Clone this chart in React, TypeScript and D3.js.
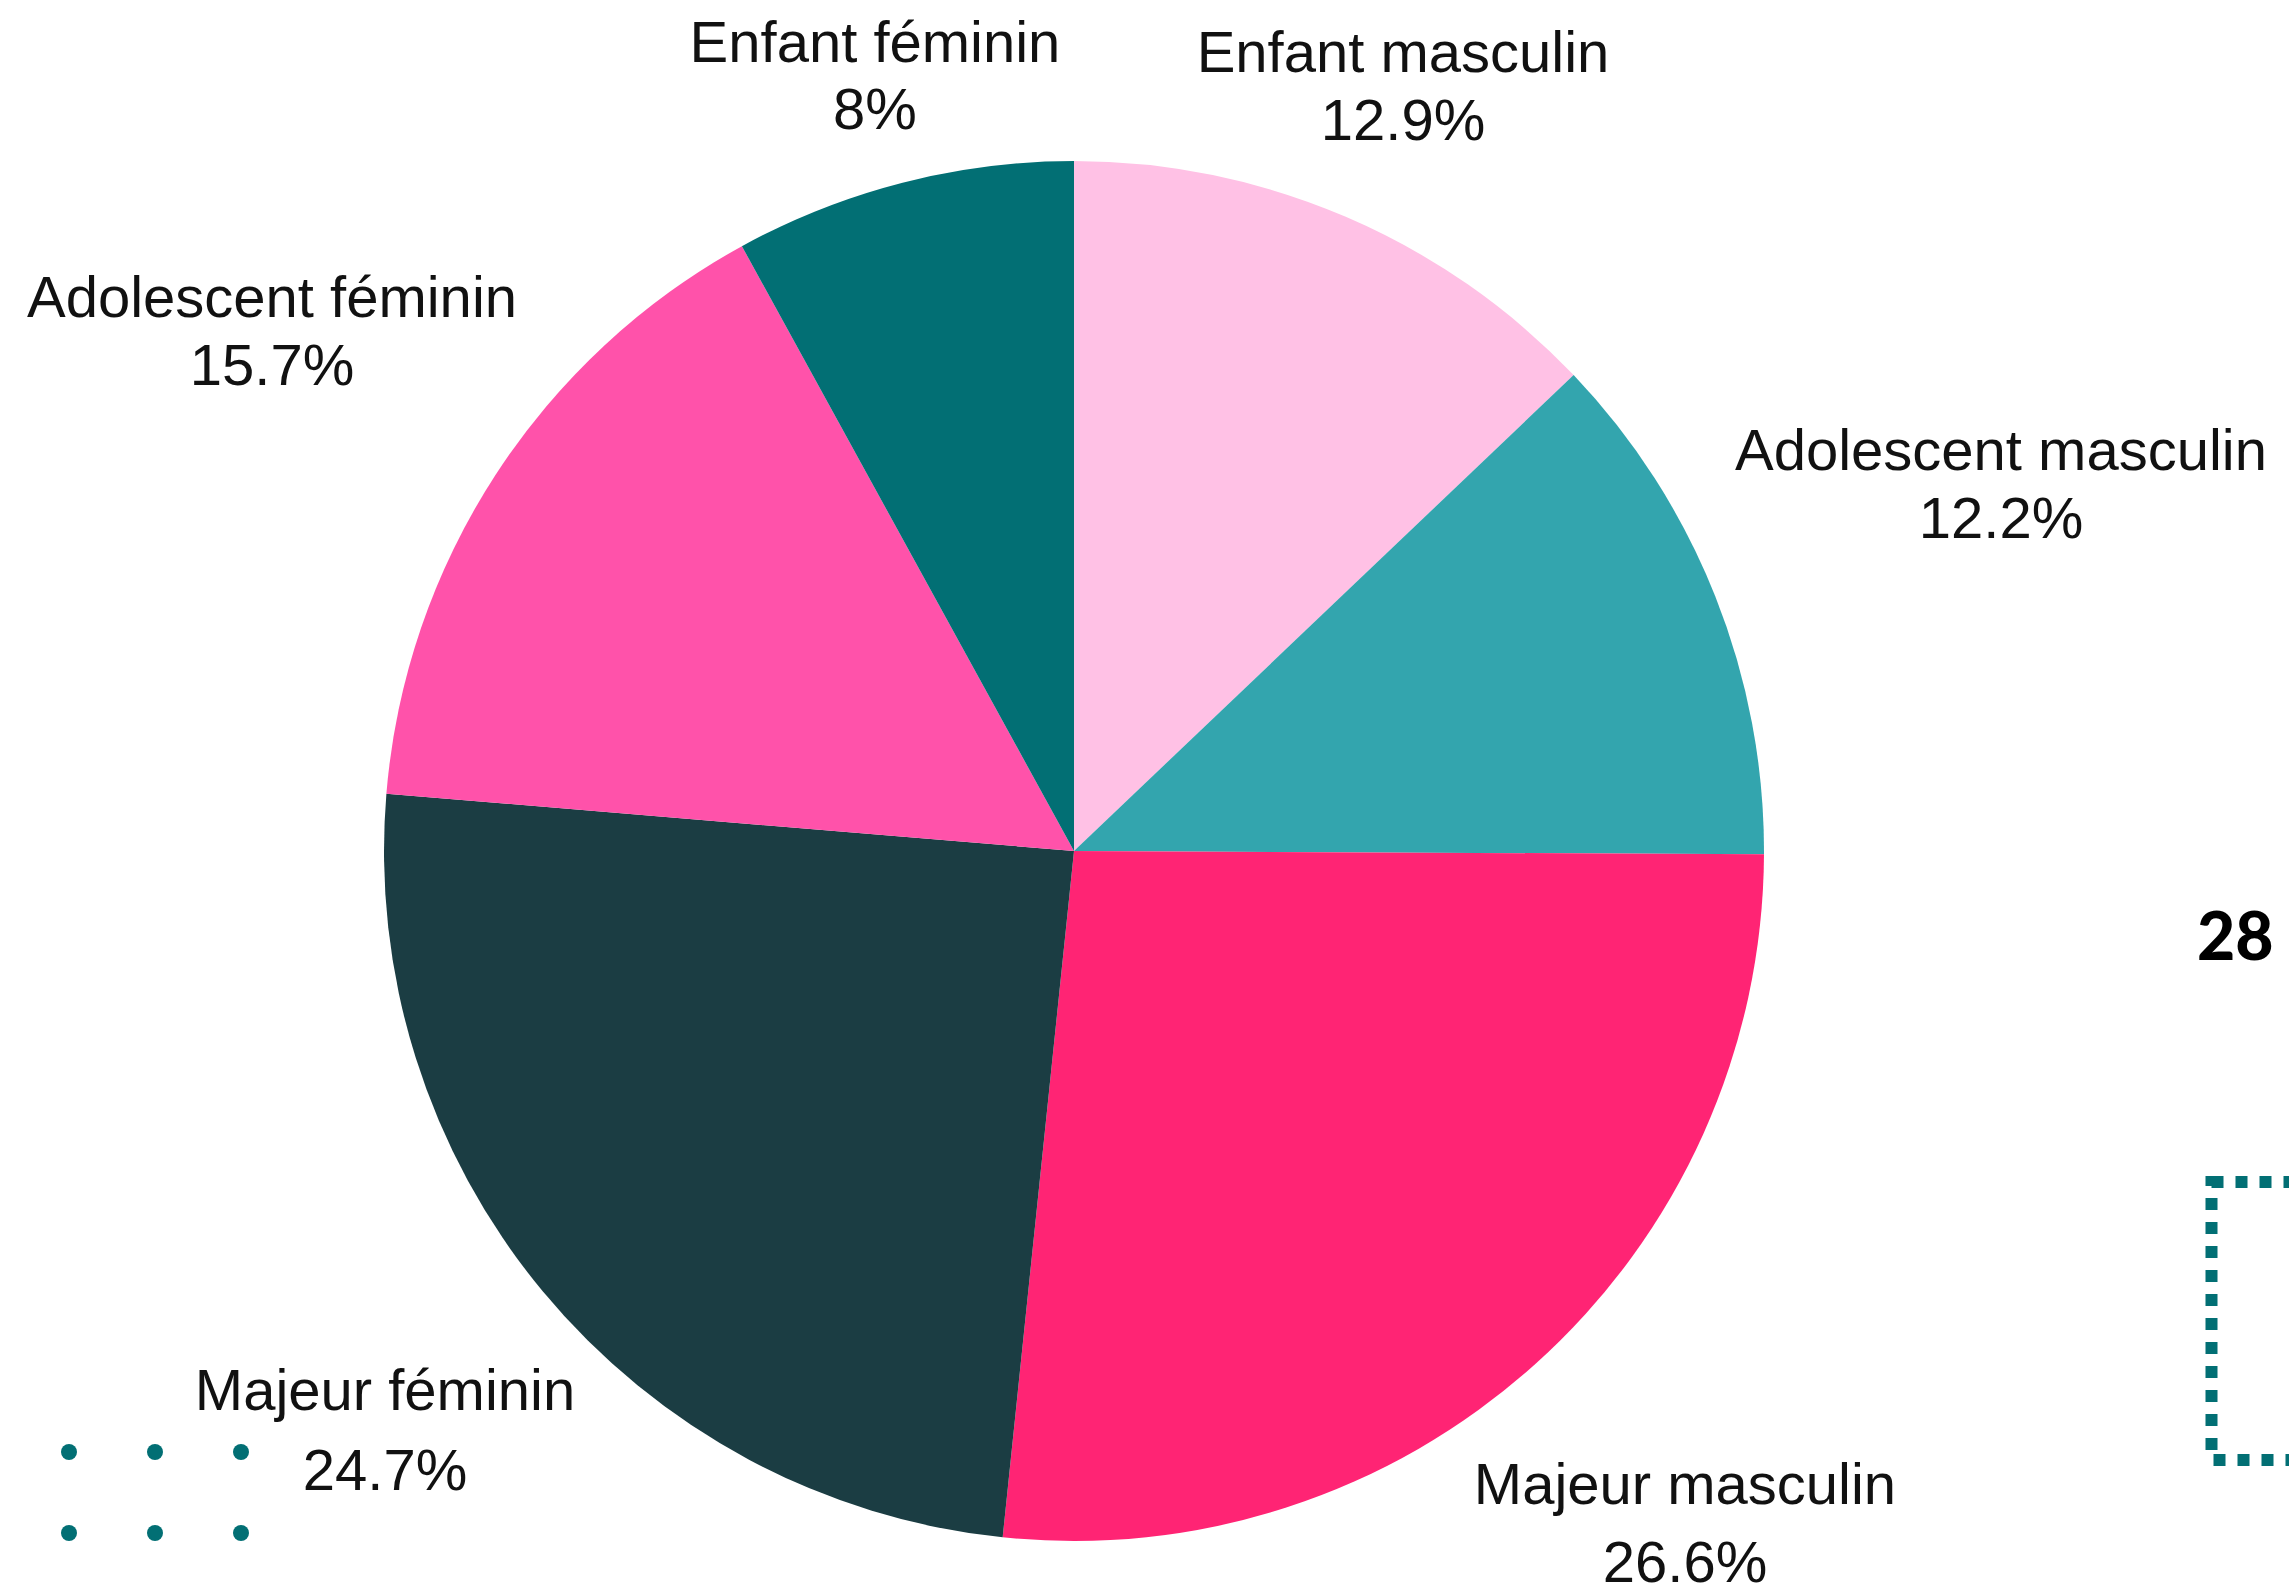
import { useEffect, useRef } from 'react'
import * as d3 from 'd3'

// slices, clockwise from 12 o'clock
const categories = [
  'Enfant masculin',
  'Adolescent masculin',
  'Majeur masculin',
  'Majeur féminin',
  'Adolescent féminin',
  'Enfant féminin',
]
const shares = [12.9, 12.2, 26.6, 24.7, 15.7, 8]
const shareLabels = ['12.9%', '12.2%', '26.6%', '24.7%', '15.7%', '8%']
const colors = ['#FFC1E5', '#33A5AE', '#FF2474', '#1B3D43', '#FF52AA', '#026F74']

// label anchor positions (centre x, first baseline, second baseline)
const labelPos: [number, number, number][] = [
  [1403, 72, 140],
  [2001, 470, 538],
  [1685, 1504, 1582],
  [385, 1410, 1490],
  [272, 317, 385],
  [875, 62, 129],
]

const dotCols = [69, 155, 241]
const dotRows = [1452, 1533]

export default function App() {
  const svgRef = useRef<SVGSVGElement | null>(null)

  useEffect(() => {
    if (!svgRef.current) return
    const width = 2289
    const height = 1591
    const cx = 1074
    const cy = 851
    const radius = 690

    const svg = d3.select(svgRef.current)
    svg.selectAll('*').remove()
    svg.attr('width', width).attr('height', height)

    svg.append('rect').attr('width', width).attr('height', height).attr('fill', '#ffffff')

    const data = categories.map((name, i) => ({ name, value: shares[i], label: shareLabels[i], color: colors[i] }))

    const pie = d3.pie<any>().sort(null).value((d: any) => d.value)
    const arc = d3.arc<any>().innerRadius(0).outerRadius(radius)

    const g = svg.append('g').attr('transform', `translate(${cx},${cy})`)
    g.selectAll('path')
      .data(pie(data))
      .enter().append('path')
      .attr('d', arc)
      .attr('fill', (d: any) => d.data.color)

    const labels = svg.append('g')
      .style('font-family', '"Liberation Sans", Arial, sans-serif')
      .style('font-size', '58px')
      .attr('fill', '#111')
      .attr('text-anchor', 'middle')

    data.forEach((d, i) => {
      const [x, y1, y2] = labelPos[i]
      labels.append('text').attr('x', x).attr('y', y1).text(d.name)
      labels.append('text').attr('x', x).attr('y', y2).text(d.label)
    })

    // decorative dots bottom-left
    const dots = svg.append('g').attr('fill', '#026F74')
    dotRows.forEach(y => dotCols.forEach(x => {
      dots.append('circle').attr('cx', x).attr('cy', y).attr('r', 8)
    }))

    // clipped slide fragments on the right
    svg.append('text')
      .attr('x', 2197).attr('y', 960)
      .style('font-family', 'Lato, "Open Sans", sans-serif')
      .style('font-weight', 900)
      .style('font-size', '66px')
      .attr('fill', '#000')
      .text('28')

    svg.append('rect')
      .attr('x', 2211.5).attr('y', 1182)
      .attr('width', 300).attr('height', 278)
      .attr('fill', 'none')
      .attr('stroke', '#026F74')
      .attr('stroke-width', 12)
      .attr('stroke-dasharray', '12 12')
  }, [])

  return (
    <div style={{ position: 'absolute', left: 0, top: 0 }}>
      <svg ref={svgRef} style={{ display: 'block' }}></svg>
    </div>
  )
}
